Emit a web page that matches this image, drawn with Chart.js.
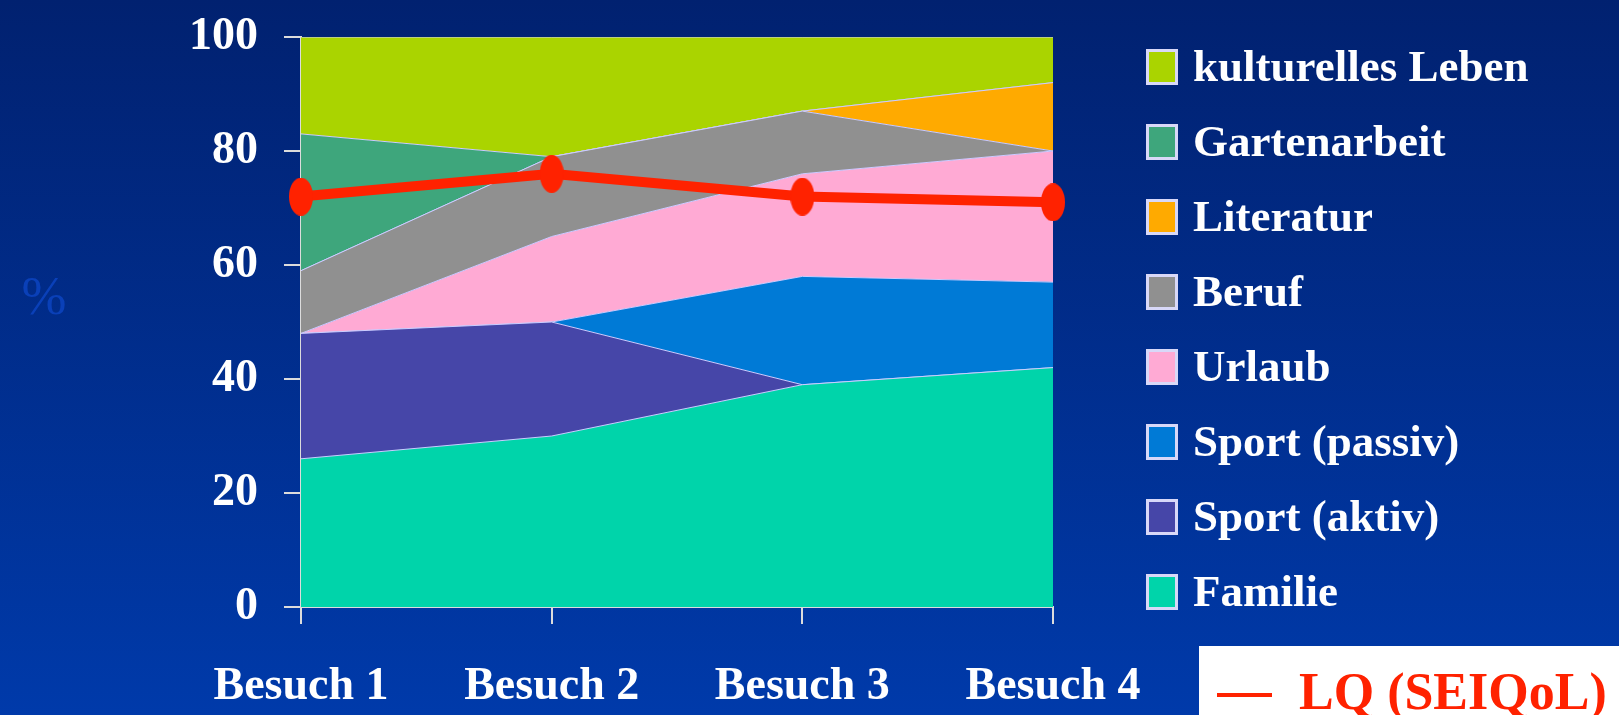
<!DOCTYPE html>
<html>
<head>
<meta charset="utf-8">
<script src="https://cdn.jsdelivr.net/npm/chart.js@4"></script>
<style>
  html, body { margin: 0; padding: 0; background: #002d8c; }
  #wrap { width: 1619px; height: 715px; position: relative; }
</style>
</head>
<body>
<div id="wrap"><canvas id="chart"></canvas></div>
<script>
// Besuche und Anteile (%) je Lebensbereich
const labels = ['Besuch 1', 'Besuch 2', 'Besuch 3', 'Besuch 4'];
const familie      = [26, 30, 39, 42];
const sportAktiv   = [22, 20, 0, 0];
const sportPassiv  = [0, 0, 19, 15];
const urlaub       = [0, 15, 18, 23];
const beruf        = [11, 14, 11, 0];
const literatur    = [0, 0, 0, 12];
const gartenarbeit = [24, 0, 0, 0];
const kulturell    = [17, 21, 13, 8];
const lq           = [72, 76, 72, 71];
const yTicks = [0, 20, 40, 60, 80, 100];

const serif = '"Liberation Serif", "Times New Roman", serif';
const edge = '#ccccff';

// Reihenfolge von unten nach oben
const areas = [
    { label: 'Familie',           data: familie,      color: '#00d4aa' },
    { label: 'Sport (aktiv)',     data: sportAktiv,   color: '#4646a8' },
    { label: 'Sport (passiv)',    data: sportPassiv,  color: '#007ad6' },
    { label: 'Urlaub',            data: urlaub,       color: '#ffaad4' },
    { label: 'Beruf',             data: beruf,        color: '#909090' },
    { label: 'Literatur',         data: literatur,    color: '#ffaa00' },
    { label: 'Gartenarbeit',      data: gartenarbeit, color: '#3ea67c' },
    { label: 'kulturelles Leben', data: kulturell,    color: '#aad400' }
];

// ovaler Punkt wie im Original
const dot = document.createElement('canvas');
dot.width = 24; dot.height = 38;
const dctx = dot.getContext('2d');
dctx.fillStyle = '#ff2200';
dctx.beginPath();
dctx.ellipse(12, 19, 12, 19, 0, 0, Math.PI * 2);
dctx.fill();

const datasets = areas.map((a, i) => ({
    label: a.label,
    data: a.data,
    backgroundColor: a.color,
    borderColor: edge,
    borderWidth: 1,
    pointRadius: 0,
    tension: 0,
    fill: i === 0 ? 'origin' : '-1'
}));
datasets.push({
    label: 'LQ (SEIQoL)',
    data: lq,
    yAxisID: 'y2',
    borderColor: '#ff2200',
    backgroundColor: '#ff2200',
    borderWidth: 10,
    pointStyle: dot,
    pointRadius: 19,
    fill: false,
    clip: false,
    order: -1
});

// Hintergrund, Legende, Achsentitel
const deco = {
    id: 'deco',
    beforeDraw(chart) {
        const c = chart.ctx;
        const g = c.createLinearGradient(0, 0, 0, chart.height);
        g.addColorStop(0, '#012170');
        g.addColorStop(1, '#003aaa');
        c.save();
        c.fillStyle = g;
        c.fillRect(0, 0, chart.width, chart.height);
        c.restore();
    },
    afterDraw(chart) {
        const c = chart.ctx;
        c.save();
        // Prozentzeichen
        c.fillStyle = '#0a40b8';
        c.font = '54px ' + serif;
        c.textAlign = 'center';
        c.textBaseline = 'middle';
        c.fillText('%', 44, 300);

        // Legende rechts
        c.textAlign = 'left';
        c.font = 'bold 45px ' + serif;
        areas.slice().reverse().forEach((a, i) => {
            const y = 67 + i * 75;
            c.fillStyle = '#d8d8f8';
            c.fillRect(1146, y - 18, 32, 36);
            c.fillStyle = a.color;
            c.fillRect(1149, y - 15, 26, 30);
            c.fillStyle = '#ffffff';
            c.fillText(a.label, 1193, y + 2);
        });

        // LQ-Kasten
        c.fillStyle = '#ffffff';
        c.fillRect(1199, 646, 420, 69);
        c.fillStyle = '#ff2200';
        c.fillRect(1217, 693, 55, 4);
        c.font = 'bold 52px ' + serif;
        c.textBaseline = 'alphabetic';
        c.fillText('LQ (SEIQoL)', 1299, 709);
        c.restore();
    }
};

new Chart(document.getElementById('chart'), {
    type: 'line',
    data: { labels: labels, datasets: datasets },
    options: {
        responsive: true,
        maintainAspectRatio: false,
        animation: false,
        layout: { padding: { left: 0, right: 566, top: 37, bottom: 0 } },
        plugins: {
            legend: { display: false },
            tooltip: { enabled: false }
        },
        scales: {
            x: {
                offset: false,
                grid: { drawOnChartArea: false, tickLength: 17, color: '#dcdcdc', lineWidth: 2 },
                border: { color: '#dcdcdc', width: 2 },
                ticks: { color: '#ffffff', font: { family: serif, size: 46, weight: 'bold' }, padding: 36, maxRotation: 0 },
                afterFit: (s) => { s.height = 715 - 607; s.paddingLeft = 0; s.paddingRight = 0; }
            },
            y: {
                stacked: true,
                min: 0,
                max: 100,
                afterBuildTicks: (s) => { s.ticks = yTicks.map(v => ({ value: v })); },
                grid: { drawOnChartArea: false, tickLength: 17, color: '#dcdcdc', lineWidth: 2 },
                border: { color: '#dcdcdc', width: 2 },
                ticks: { color: '#ffffff', font: { family: serif, size: 46, weight: 'bold' }, padding: 26 },
                afterFit: (s) => { s.width = 301; s.paddingTop = 0; s.paddingBottom = 0; }
            },
            y2: {
                display: false,
                min: 0,
                max: 100
            }
        }
    },
    plugins: [deco]
});
</script>
</body>
</html>
